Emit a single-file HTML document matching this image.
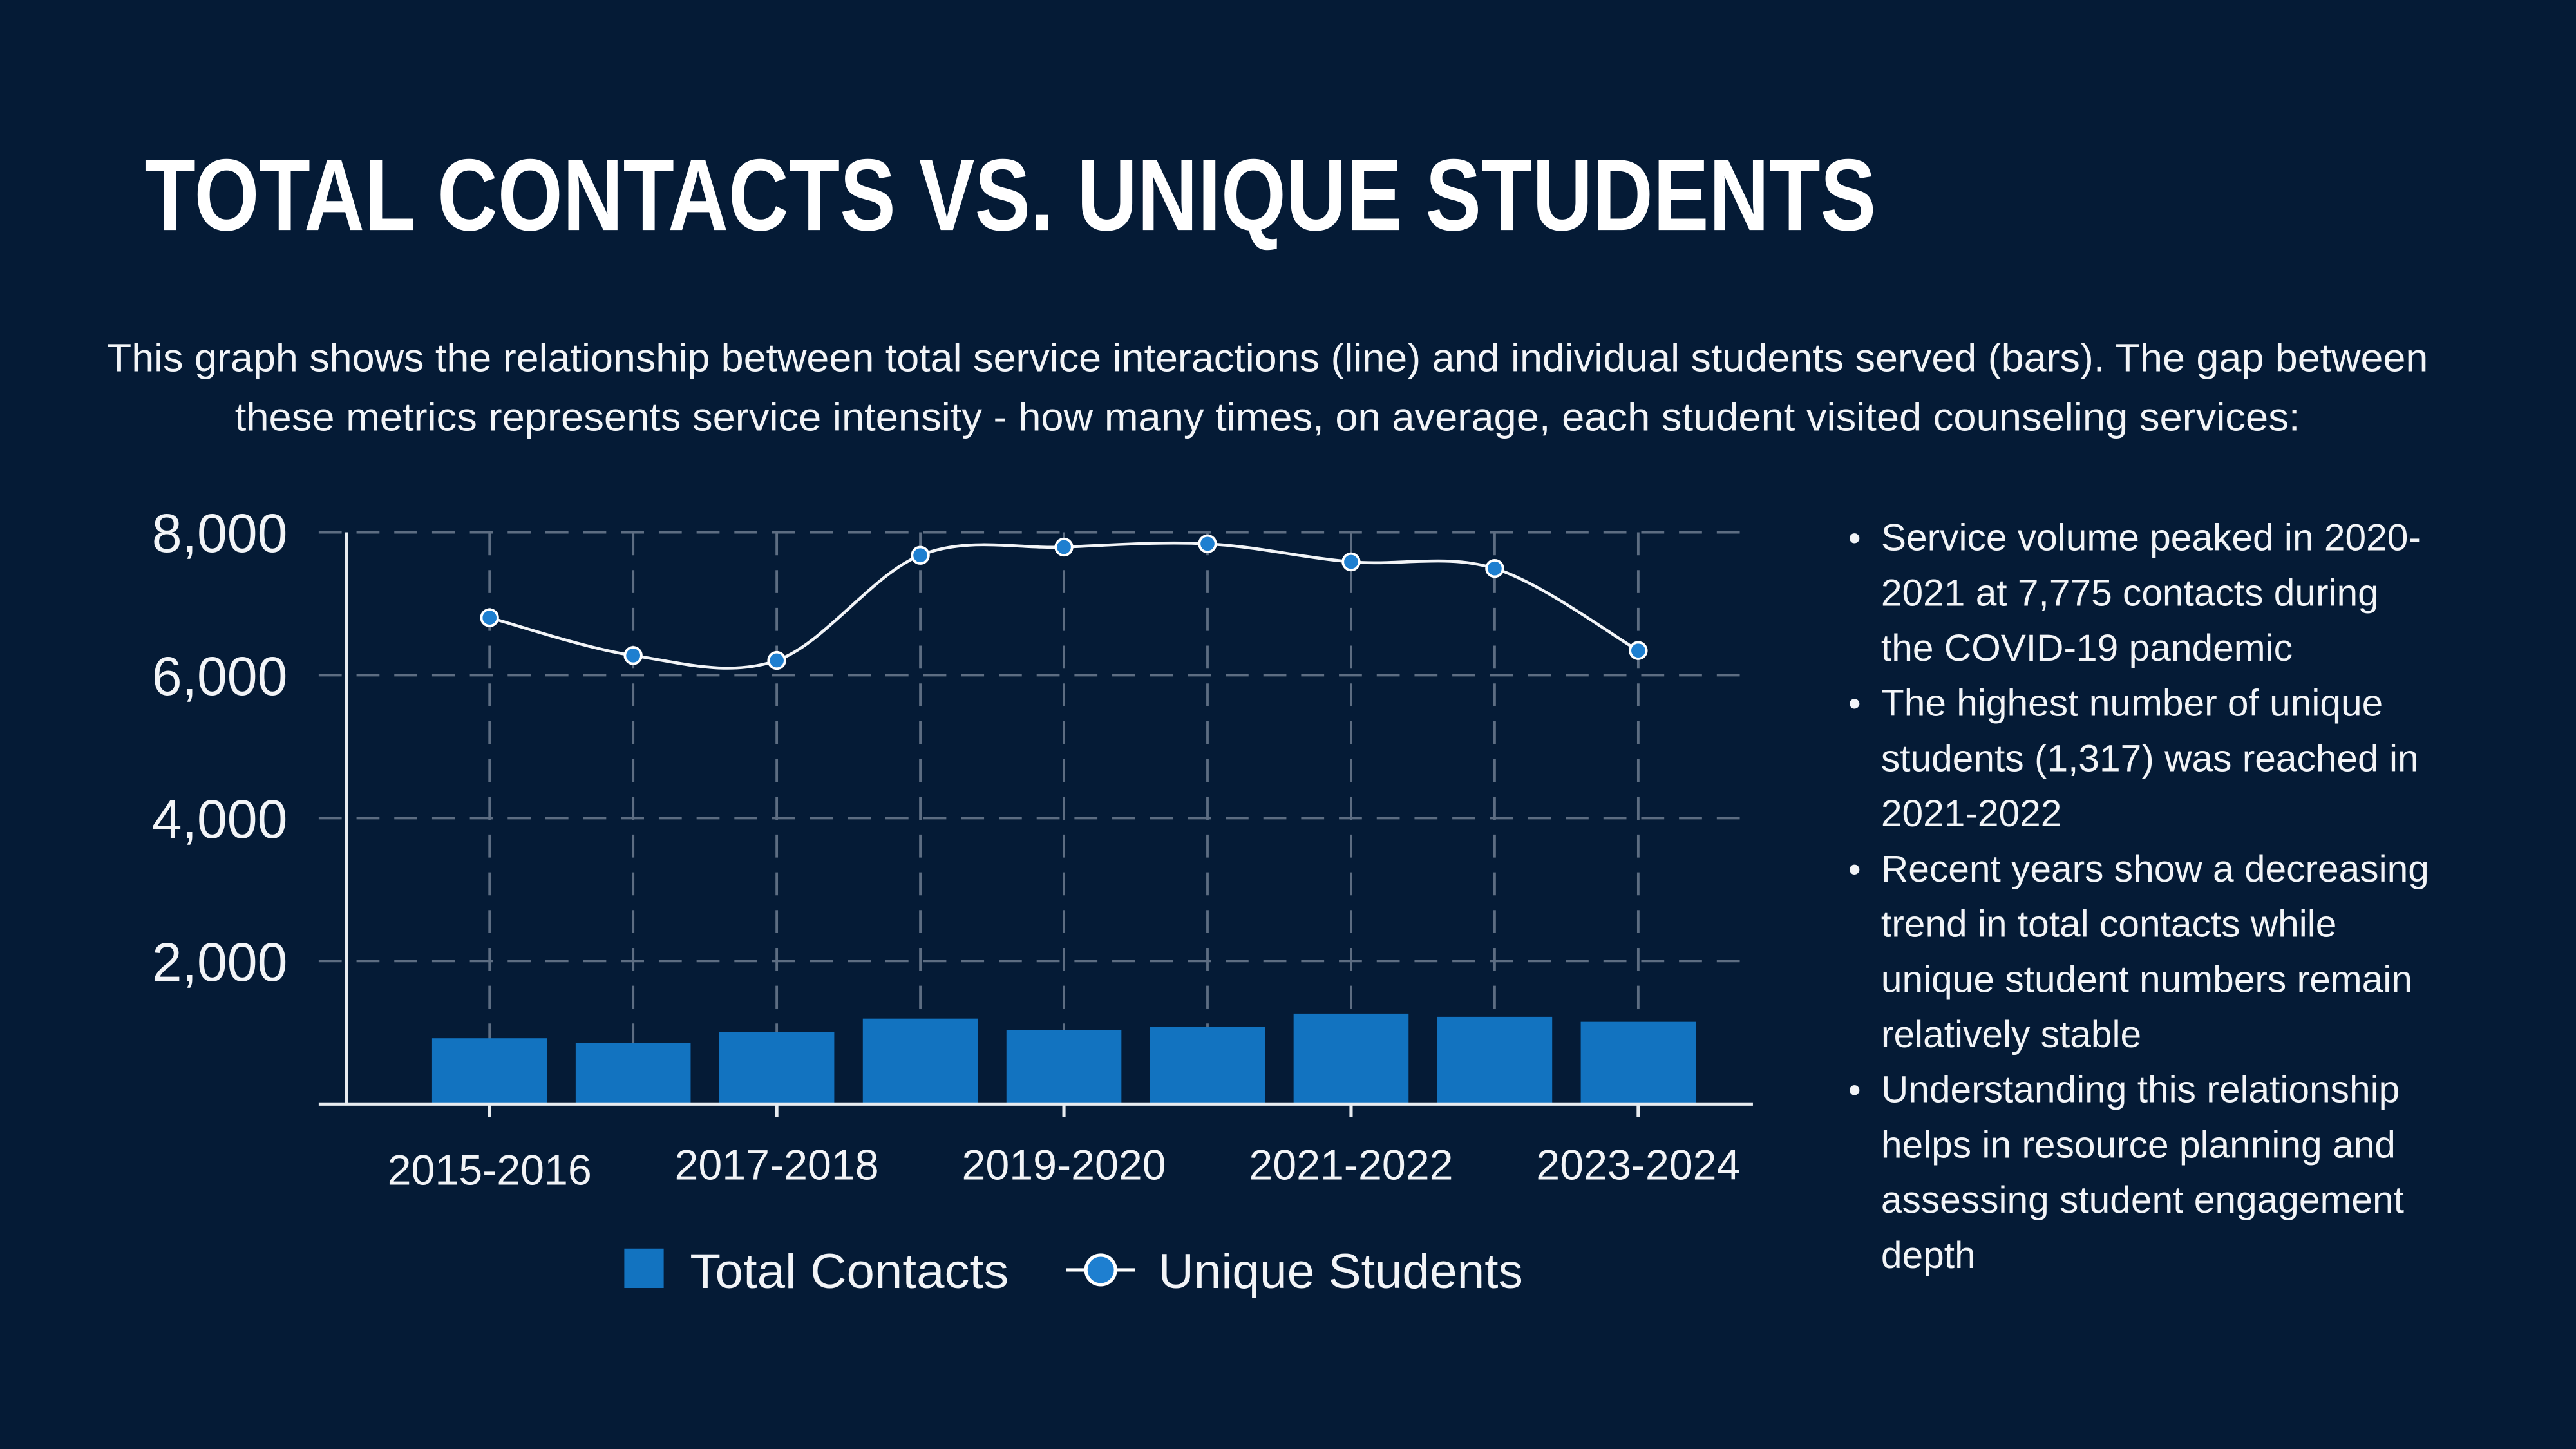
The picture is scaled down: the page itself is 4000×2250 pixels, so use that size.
<!DOCTYPE html>
<html><head><meta charset="utf-8"><style>
html,body{margin:0;padding:0;background:#051b36;}
svg{display:block}
text{font-family:"Liberation Sans",sans-serif;fill:#f2f4f7}
</style></head><body>
<svg id="chart" width="4000" height="2250" viewBox="0 0 1568 882" xmlns="http://www.w3.org/2000/svg">
<rect width="1568" height="882" fill="#051b36"/>
<text x="88" y="140" font-size="62" font-weight="bold" textLength="1054" lengthAdjust="spacingAndGlyphs" style="fill:#ffffff">TOTAL CONTACTS VS. UNIQUE STUDENTS</text>
<text x="65" y="226" font-size="24" textLength="1413" lengthAdjust="spacingAndGlyphs">This graph shows the relationship between total service interactions (line) and individual students served (bars). The gap between</text>
<text x="143" y="262" font-size="24" textLength="1257" lengthAdjust="spacingAndGlyphs">these metrics represents service intensity - how many times, on average, each student visited counseling services:</text>
<g id="grid"></g>
<g id="bars"></g>
<g id="axes"></g>
<g id="line"></g>
<g>
<rect x="380" y="760" width="24" height="24" fill="#1273c0"/>
<text x="420" y="784" font-size="30" textLength="194" lengthAdjust="spacingAndGlyphs">Total Contacts</text>
<line x1="649" y1="773" x2="691" y2="773" stroke="#fff" stroke-width="2"/>
<circle cx="670" cy="773" r="9" fill="#1e7fd0" stroke="#fff" stroke-width="2"/>
<text x="705" y="784" font-size="30" textLength="222" lengthAdjust="spacingAndGlyphs">Unique Students</text>
</g>
<g font-size="23">
<g id="bullets"></g>
</g>
</svg>
<script>
const categories=["2015-2016","2016-2017","2017-2018","2018-2019","2019-2020","2020-2021","2021-2022","2022-2023","2023-2024"];
const barValues=[920,850,1010,1195,1035,1080,1265,1220,1150];
const lineValues=[6805,6276,6207,7678,7793,7839,7586,7494,6345];
const yTicks=[2000,4000,6000,8000];
const yTickLabels=["2,000","4,000","6,000","8,000"];
const xLabelIdx=[0,2,4,6,8];
const bulletLines=[
["Service volume peaked in 2020-","2021 at 7,775 contacts during","the COVID-19 pandemic"],
["The highest number of unique","students (1,317) was reached in","2021-2022"],
["Recent years show a decreasing","trend in total contacts while","unique student numbers remain","relatively stable"],
["Understanding this relationship","helps in resource planning and","assessing student engagement","depth"]];
const NS="http://www.w3.org/2000/svg";
const X0=211,X1=1067,Y0=672,Ytop=324;
const y=v=>Y0-(v/8000)*(Y0-Ytop);
const step=87.4;
const x=i=>298+i*step;
function mk(tag,attrs,parent){const e=document.createElementNS(NS,tag);for(const k in attrs)e.setAttribute(k,attrs[k]);parent.appendChild(e);return e;}
const grid=document.getElementById('grid'),bars=document.getElementById('bars'),axes=document.getElementById('axes'),line=document.getElementById('line');
yTicks.forEach((t,i)=>{
 const l=mk('line',{x1:194,x2:X1,y1:y(t),y2:y(t),stroke:'#5d6d82','stroke-width':1.5,'stroke-dasharray':'14 9'},grid);
 
 
 const tx=mk('text',{x:175,y:y(t)+12,'font-size':33,'text-anchor':'end'},axes);
 tx.textContent=yTickLabels[i];
 
 
});
categories.forEach((c,i)=>{
 const l=mk('line',{x1:x(i),x2:x(i),y1:Ytop,y2:Y0,stroke:'#5d6d82','stroke-width':1.5,'stroke-dasharray':'14 9'},grid);
 
 
 const b=mk('rect',{x:x(i)-35,y:y(barValues[i]),width:70,height:Y0-y(barValues[i]),fill:'#1273c0'},bars);
 
 
});
const ax=mk('line',{x1:X0,x2:X0,y1:Ytop,y2:Y0,stroke:'#e8ecf0','stroke-width':2},axes);


const bx=mk('line',{x1:194,x2:X1,y1:Y0,y2:Y0,stroke:'#e8ecf0','stroke-width':2},axes);


xLabelIdx.forEach(i=>{
 mk('line',{x1:x(i),x2:x(i),y1:Y0,y2:Y0+8,stroke:'#e8ecf0','stroke-width':2},axes);
 const t=mk('text',{x:x(i),y:i===0?721:718,'font-size':26,'text-anchor':'middle'},axes);
 t.textContent=categories[i];
 
 
});
const pts=lineValues.map((v,i)=>[x(i),y(v)]);
let d='M'+pts[0][0]+','+pts[0][1];
for(let i=0;i<pts.length-1;i++){
 const p0=pts[Math.max(0,i-1)],p1=pts[i],p2=pts[i+1],p3=pts[Math.min(pts.length-1,i+2)];
 const t=0.5/3*1.0;
 const c1=[p1[0]+(p2[0]-p0[0])*t,p1[1]+(p2[1]-p0[1])*t];
 const c2=[p2[0]-(p3[0]-p1[0])*t,p2[1]-(p3[1]-p1[1])*t];
 d+=' C'+c1+' '+c2+' '+p2;
}
const path=mk('path',{d:d,fill:'none',stroke:'#f2f4f7','stroke-width':1.8},line);


pts.forEach((p,i)=>{
 const c=mk('circle',{cx:p[0],cy:p[1],r:5,fill:'#1e7fd0',stroke:'#fff','stroke-width':1.5},line);
 
 
});
const bl=document.getElementById('bullets');
let row=0;
bulletLines.forEach((g,gi)=>{
 g.forEach((s,j)=>{
  const yy=335+row*33.6;
  if(j===0){const b=mk('text',{x:1125,y:yy,'font-size':22},bl);b.textContent='•';}
  const t=mk('text',{x:1145,y:yy,'font-size':23},bl);
  t.textContent=s;
  
  
  row++;
 });
});
</script>
</body></html>
